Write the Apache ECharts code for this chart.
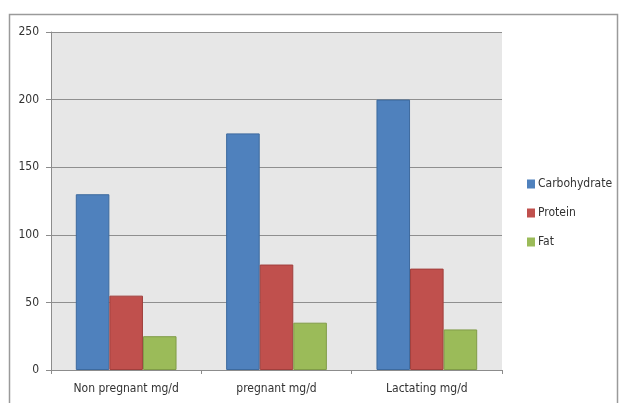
<!DOCTYPE html>
<html>
<head>
<meta charset="utf-8">
<script src="https://cdn.jsdelivr.net/npm/echarts@6/dist/echarts.min.js"></script>
<style>
  html, body { margin: 0; padding: 0; background: #ffffff; }
  #chart { width: 620px; height: 403px; }
</style>
</head>
<body>
<div id="chart"></div>
<script>
// Daily nutrient intake by physiological state
const categories = ['Non pregnant mg/d', 'pregnant mg/d', 'Lactating mg/d'];
const carbohydrate = [130, 175, 200];
const protein = [55, 78, 75];
const fat = [25, 35, 30];
const yTicks = { min: 0, max: 250, interval: 50 };

const FONT = '"Liberation Sans Narrow", "DejaVu Sans Condensed", sans-serif';

const chart = echarts.init(document.getElementById('chart'), null, { renderer: 'canvas' });

function barSeries(name, data, color, edge) {
  return {
    name: name,
    type: 'bar',
    data: data,
    barGap: '0%',
    barCategoryGap: '33%',
    itemStyle: { color: color, borderColor: edge, borderWidth: 1 },
    emphasis: { disabled: true }
  };
}

chart.setOption({
  animation: false,
  backgroundColor: '#ffffff',
  textStyle: { fontFamily: FONT },
  graphic: [
    {
      type: 'rect',
      shape: { x: 9.5, y: 14.5, width: 608, height: 400 },
      style: { fill: 'none', stroke: '#9a9a9a', lineWidth: 1.5 },
      silent: true,
      z: -1
    }
  ],
  grid: {
    left: 51, top: 32, width: 451, height: 338,
    show: true, backgroundColor: '#e7e7e7', borderWidth: 0
  },
  legend: {
    orient: 'vertical',
    left: 522,
    top: 173,
    itemWidth: 8,
    itemHeight: 9,
    itemGap: 17,
    icon: 'rect',
    itemStyle: { borderWidth: 0 },
    textStyle: { fontFamily: FONT, fontSize: 12, color: '#333333', padding: [0, 0, 0, -2] },
    data: ['Carbohydrate', 'Protein', 'Fat']
  },
  xAxis: {
    type: 'category',
    data: categories,
    axisLine: { lineStyle: { color: '#8c8c8c', width: 1 } },
    axisTick: { show: true, length: 4, lineStyle: { color: '#8c8c8c' } },
    axisLabel: { fontFamily: FONT, fontSize: 12, color: '#333333', margin: 13 }
  },
  yAxis: {
    type: 'value',
    min: yTicks.min,
    max: yTicks.max,
    interval: yTicks.interval,
    axisLine: { show: true, lineStyle: { color: '#8c8c8c', width: 1 } },
    axisTick: { show: true, length: 5, lineStyle: { color: '#8c8c8c' } },
    axisLabel: { fontFamily: FONT, fontSize: 12, color: '#333333', margin: 12 },
    splitLine: { show: true, lineStyle: { color: '#8f8f8f', width: 1.2 } }
  },
  series: [
    barSeries('Carbohydrate', carbohydrate, '#4f81bd', '#3d6a9e'),
    barSeries('Protein', protein, '#c0504d', '#a03f3c'),
    barSeries('Fat', fat, '#9bbb59', '#809c48')
  ]
});
</script>
</body>
</html>
